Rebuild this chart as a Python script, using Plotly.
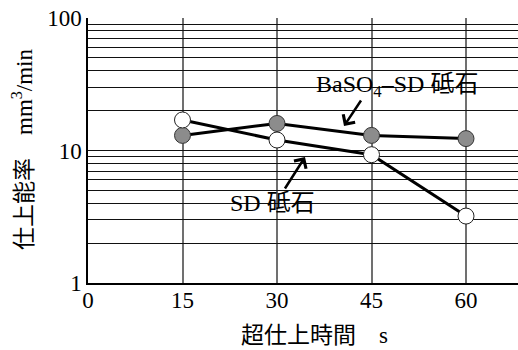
import plotly.graph_objects as go

# Data
time_s = [15, 30, 45, 60]
sd_rate = [17, 12, 9.3, 3.2]           # SD 砥石 (white markers)
baso4_rate = [13, 16, 13, 12.3]        # BaSO4-SD 砥石 (gray markers)

x_ticks = [0, 15, 30, 45, 60]
y_grid_vals = [m * 10 ** e for e in range(2) for m in range(1, 10)] + [100]
y_tick_text = [str(v) if v in (1, 10, 100) else "" for v in y_grid_vals]

FONT = "Liberation Serif, Noto Sans CJK JP"

fig = go.Figure()
fig.add_trace(go.Scatter(
    x=time_s, y=baso4_rate, mode="lines+markers",
    line=dict(color="black", width=3),
    marker=dict(size=16, color="#8c8c8c", line=dict(color="#333", width=1)),
    showlegend=False))
fig.add_trace(go.Scatter(
    x=time_s, y=sd_rate, mode="lines+markers",
    line=dict(color="black", width=3),
    marker=dict(size=16, color="white", line=dict(color="#222", width=1)),
    showlegend=False))

W, H = 518, 350
ml, mr, mt, mb = 88, 0, 18, 67
pw, ph = W - ml - mr, H - mt - mb

def px(xp):
    return (xp - ml) / pw

def py(yp):
    return (H - mb - yp) / ph

# white label backgrounds (hide gridlines)
shapes = [
    dict(type="rect", xref="paper", yref="paper",
         x0=px(316), x1=px(478), y0=py(107), y1=py(60),
         fillcolor="white", line=dict(width=0), layer="between"),
    dict(type="rect", xref="paper", yref="paper",
         x0=px(230), x1=px(315), y0=py(222), y1=py(186),
         fillcolor="white", line=dict(width=0), layer="between"),
]

def label(text, xp, yp, size=24, angle=0):
    return dict(text=text, xref="paper", yref="paper",
                x=px(xp), y=py(yp), xanchor="center", yanchor="middle",
                showarrow=False, textangle=angle,
                font=dict(family=FONT, size=size, color="black"))

annotations = [
    label("BaSO<sub>4</sub>–SD 砥石", 396.5, 86),
    label("SD 砥石", 272.5, 203),
    # arrows
    dict(text="", xref="paper", yref="paper", x=px(344), y=py(126),
         ax=18, ay=-27, showarrow=True, arrowhead=4, arrowsize=1.1,
         arrowwidth=2.5, arrowcolor="black"),
    dict(text="", xref="paper", yref="paper", x=px(305), y=py(157),
         ax=-21, ay=33, showarrow=True, arrowhead=4, arrowsize=1.1,
         arrowwidth=2.5, arrowcolor="black"),
    # axis titles
    label("超仕上時間　s", 314, 335, size=23),
    label("仕上能率　mm<sup>3</sup>/min", 22, 150, size=23, angle=-90),
]

fig.update_layout(
    width=W, height=H,
    margin=dict(l=ml, r=mr, t=mt, b=mb),
    paper_bgcolor="white", plot_bgcolor="white",
    font=dict(family=FONT, size=23, color="black"),
    shapes=shapes, annotations=annotations,
    xaxis=dict(range=[0, pw / 6.3], tickvals=x_ticks,
               showgrid=True, gridcolor="#707070", gridwidth=1.5,
               showline=True, linecolor="black", linewidth=1.5,
               zeroline=False, ticks="", ticklabelstandoff=-4,
               tickfont=dict(family=FONT, size=23, color="black")),
    yaxis=dict(type="log", range=[0, 2], tickvals=y_grid_vals,
               ticktext=y_tick_text,
               showgrid=True, gridcolor="#111", gridwidth=1,
               showline=True, linecolor="black", linewidth=1.5,
               zeroline=False, ticks="", ticklabelstandoff=0,
               tickfont=dict(family=FONT, size=23, color="black")),
)

fig.write_html("out.html")
